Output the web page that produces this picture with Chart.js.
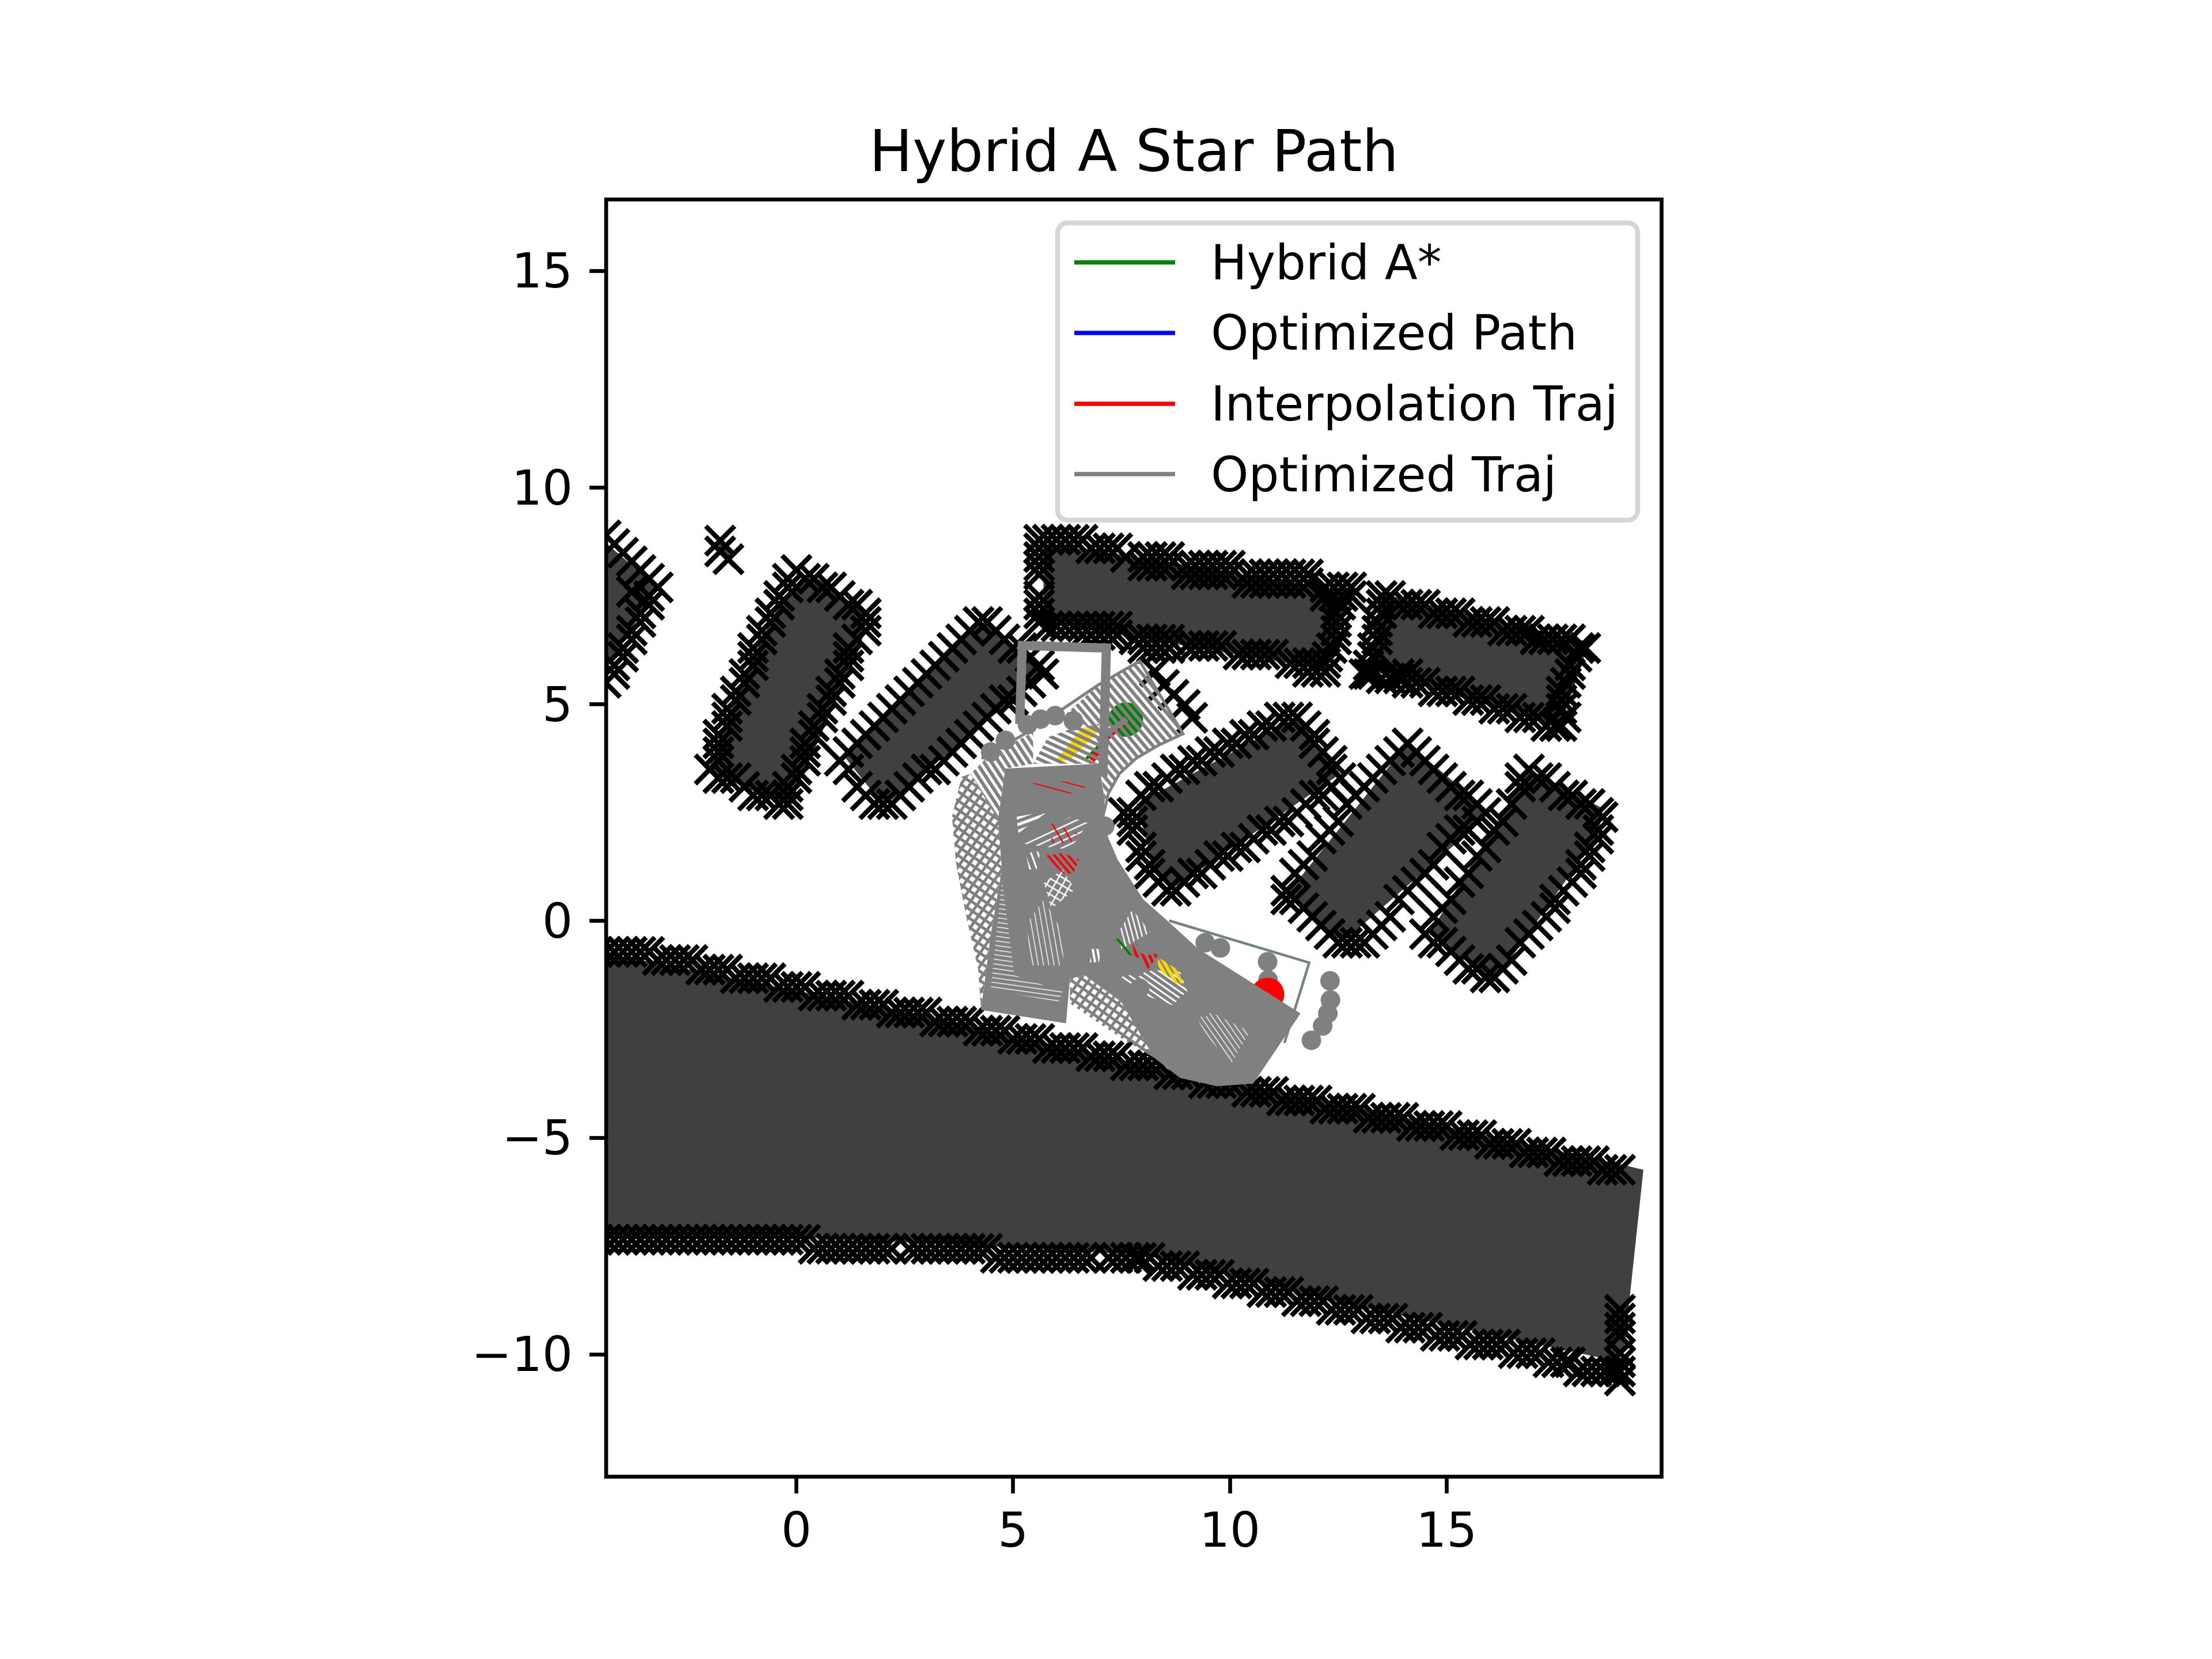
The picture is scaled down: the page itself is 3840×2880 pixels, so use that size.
<!DOCTYPE html>
<html>
<head>
<meta charset="utf-8">
<title>Hybrid A Star Path</title>
<style>html,body{margin:0;padding:0;background:#fff}canvas{display:block}</style>
<script src="https://cdn.jsdelivr.net/npm/chart.js@4/dist/chart.umd.js"></script>
</head>
<body>
<canvas id="plot" width="3840" height="2880"></canvas>
<script>
// ─── AXES ───
const xTicks = [0, 5, 10, 15];
const yTicks = [-10, -5, 0, 5, 10, 15];
const xLimits = [-4.39, 19.96];
const yLimits = [-12.82, 16.65];
const titleText = 'Hybrid A Star Path';
const legendLabels = ['Hybrid A*', 'Optimized Path', 'Interpolation Traj', 'Optimized Traj'];
const legendColors = ['#008000', '#0000ff', '#ff0000', '#808080'];

// ─── ROAD EDGES: each row is [y, x, x, x...] ───
const roadTopRows = [
    [-0.71, -4.6, -4.4, -4.2, -4.0, -3.8, -3.6, -3.4],
    [-0.90, -3.2, -3.0, -2.8, -2.6, -2.4],
    [-1.12, -2.2, -2.0, -1.8, -1.6],
    [-1.32, -1.4, -1.2, -1.0, -0.8, -0.6],
    [-1.52, -0.4, -0.2, 0, 0.2],
    [-1.72, 0.4, 0.6, 0.8, 1.0, 1.2],
    [-1.93, 1.4, 1.6, 1.8, 2.0],
    [-2.11, 2.2, 2.4, 2.6, 2.8, 3.0],
    [-2.32, 3.2, 3.4, 3.6, 3.8, 4.0],
    [-2.53, 4.2, 4.4, 4.6, 4.8],
    [-2.72, 5.0, 5.2, 5.4, 5.6],
    [-2.93, 5.8, 6.0, 6.2, 6.4, 6.6],
    [-3.12, 6.8, 7.0, 7.2, 7.4],
    [-3.33, 7.6, 7.8, 8.0, 8.2, 8.4],
    [-3.54, 8.6, 8.8, 9.0, 9.2],
    [-3.74, 9.4, 9.6, 9.8, 10.0, 10.2],
    [-3.94, 10.4, 10.6, 10.8, 11.0],
    [-4.14, 11.2, 11.4, 11.6, 11.8, 12.0],
    [-4.33, 12.2, 12.4, 12.6, 12.8, 13.0],
    [-4.54, 13.2, 13.4, 13.6, 13.8, 14.0],
    [-4.73, 14.2, 14.4, 14.6, 14.8, 15.0],
    [-4.94, 15.2, 15.4, 15.6, 15.8],
    [-5.14, 16.0, 16.2, 16.4, 16.6],
    [-5.34, 16.8, 17.0, 17.2, 17.4],
    [-5.54, 17.6, 17.8, 18.0, 18.2, 18.4],
    [-5.74, 18.6, 18.8, 19.0]
];
const roadBottomRows = [
    [-7.35, -4.6, -4.4, -4.2, -4.0, -3.8, -3.6, -3.4, -3.2, -3.0, -2.8, -2.6, -2.4, -2.2, -2.0, -1.8, -1.6, -1.4, -1.2, -1.0, -0.8, -0.6, -0.4, -0.2, 0, 0.2],
    [-7.56, 0.4, 0.6, 0.8, 1.0, 1.2, 1.4, 1.6, 1.8, 2.0, 2.2, 2.6, 2.8, 3.0, 3.2, 3.4, 3.6, 3.8, 4.0, 4.2, 4.4],
    [-7.77, 4.6, 4.8, 5.0, 5.2, 5.4, 5.6, 5.8, 6.0, 6.2, 6.4, 6.6, 6.8, 7.2, 7.4, 7.6, 7.8, 7.95, 8.15],
    [-7.96, 8.35, 8.55, 8.75, 8.95],
    [-8.16, 9.15, 9.35, 9.55, 9.75],
    [-8.36, 9.95, 10.15, 10.35, 10.55],
    [-8.56, 10.75, 10.95, 11.15, 11.35],
    [-8.77, 11.55, 11.75, 11.95, 12.15],
    [-8.97, 12.35, 12.55, 12.75, 12.95, 19.0],
    [-9.17, 13.15, 13.35, 13.55, 13.75, 19.0],
    [-9.38, 13.95, 14.15, 14.35, 14.55, 19.0],
    [-9.57, 14.75, 14.95, 15.15, 15.35, 19.0],
    [-9.77, 15.55, 15.75, 15.95, 16.15, 16.35],
    [-9.97, 16.55, 16.75, 16.95, 17.15, 19.0],
    [-10.18, 17.35, 17.55, 17.75, 17.85, 19.0],
    [-10.39, 18.05, 18.25, 18.45, 18.65, 18.85, 19.0],
    [-10.60, 19.0]
];

// ─── OBSTACLE MARKERS ───
const obstacleA = [[-4.4,8.9],[-4.2,8.7],[-4.0,8.5],[-3.8,8.3],[-3.6,8.1],[-3.4,7.9],[-3.2,7.7],[-3.4,7.5],[-3.4,7.3],[-3.6,7.1],[-3.6,6.9],[-3.8,6.7],[-3.8,6.5],[-4.0,6.3],[-4.0,6.1],[-4.2,5.9],[-4.2,5.7],[-4.4,5.5],[-3.8,7.6]];
const obstacleB = [[-1.76,8.78],[-1.76,8.53],[-1.57,8.35]];
const obstacleC = [[0.4,7.9],[0.6,7.7],[0.8,7.7],[1.0,7.5],[1.2,7.3],[1.4,7.3],[1.6,7.1],[1.6,6.9],[1.6,6.7],[1.4,6.5],[1.2,6.3],[1.2,6.1],[1.2,5.9],[1.0,5.7],[1.0,5.5],[0.8,5.3],[0.8,5.1],[0.6,4.9],[0.6,4.7],[0.4,4.5],[0.4,4.3],[0.2,4.1],[0.2,3.9],[0.2,3.7],[0,3.5],[0,3.3],[-0.2,3.1],[-0.2,2.9],[-0.2,2.7],[-0.4,2.7],[-0.6,2.9],[-0.8,2.9],[-1.0,2.9],[-1.2,3.1],[-1.4,3.3],[-1.6,3.3],[-1.8,3.3],[-2.0,3.5],[-1.8,3.7],[-1.8,3.9],[-1.8,4.1],[-1.8,4.3],[-1.6,4.5],[-1.6,4.7],[-1.6,4.9],[-1.4,5.1],[-1.4,5.3],[-1.2,5.5],[-1.2,5.7],[-1.0,5.9],[-1.0,6.1],[-1.0,6.3],[-0.8,6.5],[-0.8,6.7],[-0.6,6.9],[-0.6,7.1],[-0.4,7.3],[-0.4,7.5],[-0.2,7.7],[-0.2,7.9],[0,8.1],[0.2,7.9]];
const obstacleD = [[1.0,3.7],[1.2,3.9],[1.4,4.1],[1.6,4.3],[1.8,4.5],[2.0,4.7],[2.2,4.9],[2.4,5.1],[2.6,5.3],[2.8,5.5],[3.0,5.7],[3.2,5.9],[3.4,6.1],[3.6,6.3],[3.8,6.5],[4.0,6.7],[4.2,6.9],[4.4,6.9],[4.6,6.7],[4.8,6.5],[5.0,6.3],[5.2,6.3],[5.4,6.1],[5.6,5.9],[5.7,5.7],[5.4,5.5],[5.2,5.3],[5.0,5.1],[4.8,5.1],[4.6,4.9],[4.4,4.7],[4.2,4.5],[4.0,4.3],[3.8,4.1],[3.6,3.9],[3.4,3.7],[3.2,3.5],[3.0,3.5],[2.8,3.3],[2.6,3.1],[2.4,2.9],[2.2,2.7],[2.0,2.7],[1.8,2.7],[1.6,2.9],[1.4,3.1],[1.2,3.5]];
const obstacleERows = [
    [8.8, 5.6, 5.8, 6.0, 6.2, 6.4, 6.6],
    [8.6, 5.6, 6.8, 7.0, 7.2, 7.4],
    [8.4, 5.6, 7.6, 8.0, 8.2, 8.4, 8.6],
    [8.2, 5.6, 8.0, 8.2, 8.4, 8.6, 9.0, 9.2, 9.4, 9.6, 9.8, 10.0],
    [8.0, 5.6, 9.0, 9.2, 9.4, 9.6, 9.8, 10.0, 10.4, 10.6, 10.8, 11.0, 11.2, 11.4, 11.6, 11.8],
    [7.8, 10.4, 10.6, 10.8, 11.0, 11.2, 11.4, 11.6, 11.8],
    [7.7, 12.2, 12.4, 12.6, 12.8],
    [7.5, 5.6, 12.2, 12.4, 12.6, 12.8],
    [7.3, 5.6, 12.55],
    [7.1, 5.6, 12.45],
    [6.9, 5.6, 12.45],
    [6.8, 5.8, 6.0, 6.2, 6.4, 6.6, 6.8, 7.0, 7.2, 7.4],
    [6.7, 12.45],
    [6.6, 6.6, 6.8, 7.0, 7.2, 7.4],
    [6.5, 7.8, 8.0, 8.2, 8.4, 8.6, 12.45],
    [6.35, 9.0, 9.2, 9.4, 9.6, 9.8],
    [6.3, 8.0, 8.2, 8.4, 8.6, 12.35],
    [6.15, 10.2, 10.4, 10.6, 10.8, 11.0],
    [6.1, 12.25],
    [5.95, 11.4, 11.6, 11.8, 12.0, 12.2],
    [5.75, 11.8, 12.0, 12.2]
];
const obstacleFRows = [
    [7.5, 13.5, 13.7],
    [7.3, 13.5, 13.9, 14.1, 14.3, 14.5],
    [7.1, 13.5, 14.7, 14.9, 15.1, 15.3],
    [6.9, 13.4, 15.5, 15.7, 15.9, 16.1],
    [6.7, 13.4, 16.3, 16.5, 16.7, 16.9],
    [6.5, 13.4, 17.05, 17.25, 17.45, 17.65, 17.85],
    [6.3, 13.3, 18.05, 18.2],
    [6.1, 13.3, 18.0],
    [5.9, 13.2, 17.85],
    [5.7, 13.1, 13.2, 13.3, 13.9, 14.1, 17.85],
    [5.6, 13.5, 13.7, 13.9],
    [5.5, 14.1, 14.3, 14.5, 17.75],
    [5.3, 14.7, 14.9, 15.1, 15.3, 17.65],
    [5.1, 15.5, 15.7, 15.9, 17.65],
    [4.9, 16.1, 16.3, 16.5, 17.65],
    [4.7, 16.7, 16.9, 17.1, 17.75],
    [4.5, 17.3, 17.5, 17.65]
];
const obstacleG = [[7.75,2.5],[7.95,2.9],[8.15,3.1],[8.35,3.1],[8.55,3.3],[8.75,3.5],[8.95,3.5],[9.15,3.7],[9.35,3.7],[9.55,3.9],[9.75,3.9],[9.95,4.1],[10.15,4.1],[10.35,4.3],[10.55,4.3],[10.75,4.5],[10.95,4.5],[11.15,4.7],[11.35,4.7],[11.55,4.7],[11.75,4.5],[11.95,4.3],[11.95,4.1],[12.15,3.9],[12.35,3.7],[12.35,3.5],[12.55,3.3],[12.35,3.1],[12.15,2.9],[11.95,2.9],[11.75,2.7],[11.55,2.5],[11.35,2.3],[11.15,2.3],[10.95,2.1],[10.75,2.1],[10.55,1.9],[10.35,1.7],[10.15,1.7],[9.95,1.5],[9.75,1.5],[9.55,1.3],[9.35,1.1],[9.15,1.1],[8.95,0.9],[8.75,0.7],[8.55,0.7],[8.35,0.9],[8.15,1.1],[8.15,1.3],[7.95,1.5],[7.95,1.7],[7.75,2.1],[7.75,2.3],[7.55,2.5]];
const obstacleH = [[11.3,0.7],[11.5,1.1],[11.7,1.3],[11.9,1.5],[12.1,1.9],[12.3,2.1],[12.5,2.3],[12.7,2.7],[12.9,2.9],[13.1,3.1],[13.3,3.3],[13.5,3.5],[13.7,3.7],[13.9,3.9],[14.1,4.1],[14.3,3.9],[14.5,3.7],[14.7,3.5],[14.9,3.3],[15.1,3.1],[15.3,2.9],[15.5,2.9],[15.7,2.7],[15.9,2.5],[15.7,2.3],[15.5,2.1],[15.3,2.1],[15.1,1.9],[14.9,1.7],[14.7,1.3],[14.5,1.1],[14.3,0.9],[14.1,0.7],[13.9,0.5],[13.7,0.1],[13.5,-0.1],[13.3,-0.3],[13.1,-0.5],[12.9,-0.5],[12.7,-0.5],[12.5,-0.5],[12.3,-0.3],[12.1,-0.1],[11.9,0.1],[11.7,0.3],[11.5,0.5],[11.3,0.5]];
const obstacleI = [[14.5,-0.3],[14.7,0.1],[14.9,0.3],[15.1,0.5],[15.3,0.9],[15.5,1.1],[15.7,1.5],[15.9,1.7],[16.1,2.1],[16.3,2.3],[16.5,2.7],[16.7,3.1],[16.7,3.3],[16.9,3.5],[17.1,3.3],[17.3,3.3],[17.5,3.1],[17.7,2.9],[17.9,2.9],[18.1,2.7],[18.3,2.7],[18.5,2.5],[18.6,2.4],[18.5,2.1],[18.5,1.9],[18.3,1.7],[18.3,1.5],[18.1,1.3],[18.1,1.1],[17.9,0.9],[17.7,0.7],[17.5,0.5],[17.5,0.3],[17.3,0.1],[17.1,-0.1],[16.9,-0.3],[16.7,-0.5],[16.5,-0.9],[16.3,-1.1],[16.1,-1.3],[15.9,-1.3],[15.7,-1.1],[15.5,-1.1],[15.3,-0.9],[15.1,-0.7],[14.9,-0.5],[14.7,-0.5]];
const obstacleJ = [[8.27,5.76],[8.48,5.45],[8.7,5.22],[8.96,4.99],[9.13,4.69]];

// ─── OBSTACLE FILLS ───
const roadFill = [[-4.6,-0.7],[3,-2.2],[7.5,-3.2],[12.5,-4.2],[19.17,-5.65],[19.54,-5.74],[19.1,-9.85],[18.9,-10.15],[13,-8.9],[8,-7.7],[4.5,-7.5],[0.2,-7.3],[-4.6,-7.3]];
const fillA = [[-4.6,8.9],[-3.2,7.7],[-4.4,5.8],[-4.6,5.5]];
const fillB = [[-1.8,8.7],[-1.6,8.7],[-1.5,8.3],[-1.7,8.4]];
const fillC = [[0.1,7.9],[0.5,7.9],[1.6,7.1],[1.5,6.4],[-0.1,2.8],[-0.3,2.7],[-1.9,3.4],[-2.0,3.6],[-1.2,5.7],[-0.4,7.3]];
const fillD = [[1.1,3.8],[4.2,6.9],[4.5,6.8],[5.7,5.7],[2.2,2.8],[1.9,2.8]];
const fillE = [[5.7,8.7],[7.2,8.5],[12.75,7.6],[12.25,5.8],[5.7,6.9]];
const fillF = [[13.5,7.55],[18.25,6.45],[18.15,6.0],[17.65,4.6],[17.4,4.55],[13.2,5.8]];
const fillG = [[7.85,2.7],[11.55,4.7],[12.55,3.4],[8.75,0.8],[8.25,1.2]];
const fillH = [[14.1,4.1],[15.9,2.6],[15.8,2.3],[12.7,-0.4],[12.4,-0.4],[11.3,0.6]];
const fillI = [[16.9,3.5],[18.6,2.6],[18.5,2.0],[16.1,-1.4],[14.6,-0.3]];

// ─── PATH MARKS ───
const startPoint = [[7.60, 4.65]];
const goalPoint = [[10.87, -1.69]];
const goldStart = [[5.97,3.69],[6.60,4.47],[6.98,4.40],[6.31,3.71]];
const goldGoal = [[8.34,-0.83],[8.76,-1.10],[8.93,-1.44],[8.76,-1.44],[8.34,-1.10]];
const interpolationTraj = [[7.62,4.66],[7.15,4.24],[6.81,3.71]];
const hybridPath = [[6.98,4.05],[6.69,3.75]];
const optimizedPath = [[7.42,4.42],[7.58,4.62]];
const stubTraj = [[7.62,4.66],[7.15,4.32]];
const goalBox = [[8.60,0.01],[11.83,-0.96],[11.26,-2.81]];
const startBox = [[5.15,4.55],[5.21,6.36],[7.15,6.30],[7.07,3.33]];
const fanRim = [[4.27,3.75],[5.46,4.43],[6.98,5.46],[7.92,6.00],[8.92,4.32],[8.34,4.05],[7.83,3.75],[7.45,3.40],[7.20,2.95],[7.07,2.41]];
const waypointsLow = [[10.88,-1.36]];
const waypoints = [[12.31,-1.38],[12.32,-1.82],[12.26,-2.13],[12.14,-2.42],[11.88,-2.75],[10.87,-0.94],[9.78,-0.62],[9.43,-0.50],[9.02,-1.90],[9.36,-1.98],[7.83,-1.06],[8.09,-0.56],[7.92,-1.55],[6.39,4.62],[5.97,4.74],[5.63,4.66],[5.33,4.53],[4.82,4.17],[4.48,3.90],[7.11,2.19]];

// ─── TRAJECTORY FOOTPRINT ───
const bodySolid = [[4.82,3.52],[6.98,3.63],[7.11,2.79],[7.07,2.41],[7.15,2.03],[7.41,1.42],[8.00,0.50],[8.60,-0.03],[9.27,-0.64],[11.63,-2.13],[10.54,-3.75],[9.70,-3.81],[8.85,-3.62],[8.26,-3.16],[7.49,-1.86],[6.65,-1.25],[6.31,-1.33],[6.22,-2.36],[4.26,-2.05],[4.48,-0.33],[4.74,1.19],[4.65,2.34]];
const fanRight = [[6.22,4.78],[6.98,5.46],[7.92,6.00],[8.92,4.32],[8.34,4.05],[7.83,3.75],[7.45,3.40],[7.20,2.95],[7.11,2.79],[7.0,3.6],[6.9,4.4],[6.6,4.55]];
const fanInner = [[5.46,3.63],[5.80,4.24],[6.31,4.43],[6.98,4.55],[7.03,3.63]];
const fanLeft = [[4.02,3.40],[4.44,3.82],[5.46,4.36],[5.46,3.63],[4.82,3.52],[4.65,2.34]];
const latticeLeft = [[3.81,3.33],[3.59,2.41],[3.68,1.34],[3.93,0.05],[4.19,-1.10],[4.26,-2.05],[4.48,-0.33],[4.74,1.19],[4.65,2.34],[4.02,3.40]];
const latticeLow = [[6.31,-1.33],[6.65,-1.25],[7.49,-1.86],[8.26,-3.16],[7.49,-2.70],[6.81,-2.24],[6.31,-1.90]];
const gapA = [[5.08,2.41],[5.80,2.53],[5.12,2.03]];
const gapB = [[5.20,1.80],[6.31,2.41],[6.73,2.26],[6.31,1.65],[5.37,1.76]];
const gapC = [[5.29,1.57],[5.63,1.61],[5.54,1.19],[5.37,1.19]];
const gapD = [[5.71,0.89],[6.14,1.19],[6.43,0.73],[5.88,0.28]];
const gapE = [[4.48,-1.59],[4.74,0.96],[5.03,-1.25],[6.14,-1.63],[6.05,-1.86]];
const gapF = [[5.33,-0.03],[5.71,0.50],[6.18,-0.33],[6.14,-1.02],[5.37,-1.02]];
const gapG = [[7.45,-0.22],[7.75,0.27],[8.17,-0.26],[7.49,-0.64]];
const gapH = [[7.49,-1.29],[8.26,-1.13],[8.85,-1.17],[9.02,-1.63],[8.68,-1.94],[7.92,-1.67]];
const gapJ = [[9.02,-1.77],[9.70,-2.17],[10.46,-2.55],[10.04,-3.27],[9.44,-2.63]];
const gapI = [[6.81,-0.64],[7.03,-0.64],[6.98,-0.95],[6.77,-0.95]];
const redPatchA = [[5.71,1.50],[6.14,1.57],[6.52,1.42],[6.39,1.11],[6.18,1.08]];
const redPatchB = [[5.88,2.26],[6.48,2.03],[6.31,1.80],[5.88,1.80]];
const redPatchC = [[5.29,3.17],[6.65,3.25],[6.65,2.95],[5.54,2.95]];
const redPatchD = [[7.75,-0.49],[8.34,-0.79],[8.09,-1.14],[7.79,-0.79]];
const greenPatch = [[7.32,-0.41],[7.49,-0.41],[7.83,-0.79],[7.66,-0.79]];

// ─── HELPERS ───
const toXY = list => list.map(p => ({ x: p[0], y: p[1] }));
const fromRows = rows => rows.flatMap(r => r.slice(1).map(x => ({ x: x, y: r[0] })));

function stripes(color, width, period, angle) {
    const tile = document.createElement('canvas');
    tile.width = 8;
    tile.height = period;
    const g = tile.getContext('2d');
    g.fillStyle = color;
    g.fillRect(0, 0, 8, width);
    const pat = g.createPattern(tile, 'repeat');
    pat.setTransform(new DOMMatrix().rotate(angle));
    return pat;
}

function lattice(color, width, period, angle) {
    const tile = document.createElement('canvas');
    tile.width = period;
    tile.height = period;
    const g = tile.getContext('2d');
    g.fillStyle = color;
    g.fillRect(0, 0, period, width);
    g.fillRect(0, 0, width, period);
    const pat = g.createPattern(tile, 'repeat');
    pat.setTransform(new DOMMatrix().rotate(angle));
    return pat;
}

function area(points, paint) {
    return { data: toXY(points), showLine: true, fill: 'shape', backgroundColor: paint, borderColor: 'transparent', borderWidth: 0, pointRadius: 0, clip: 0 };
}
function path(points, color, width, label) {
    return { label: label, data: toXY(points), showLine: true, fill: false, borderColor: color, borderWidth: width, pointRadius: 0, clip: 0 };
}
function dots(points, color, radius) {
    return { data: toXY(points), showLine: false, pointStyle: 'circle', pointRadius: radius, backgroundColor: color, borderColor: color, borderWidth: 0, clip: 0 };
}

const GRAY = '#808080';
const DARK = '#404040';
const obstacleMarks = [].concat(
    fromRows(roadTopRows), fromRows(roadBottomRows), fromRows(obstacleERows), fromRows(obstacleFRows),
    toXY(obstacleA), toXY(obstacleB), toXY(obstacleC), toXY(obstacleD), toXY(obstacleG), toXY(obstacleH), toXY(obstacleI), toXY(obstacleJ)
);

// drawn in list order, first at the back
const datasets = [
    area(roadFill, DARK), area(fillA, DARK), area(fillB, DARK), area(fillC, DARK), area(fillD, DARK),
    area(fillE, DARK), area(fillF, DARK), area(fillG, DARK), area(fillH, DARK), area(fillI, DARK),
    { data: obstacleMarks, showLine: false, pointStyle: 'crossRot', pointRadius: 35.4, borderColor: '#000', backgroundColor: '#000', borderWidth: 8.33, clip: 0 },
    dots(startPoint, '#008000', 30),
    dots(waypointsLow, GRAY, 17),
    dots(goalPoint, '#ff0000', 29),
    area(goldStart, '#ffd700'),
    path(interpolationTraj, '#ff0000', 12, 'Interpolation Traj'),
    path(hybridPath, '#008000', 5, 'Hybrid A*'),
    path(optimizedPath, '#0000ff', 2, 'Optimized Path'),
    path(goalBox, '#75857a', 4.5),
    area(latticeLeft, lattice(GRAY, 5, 13, 35)),
    area(latticeLow, lattice(GRAY, 5, 13, 35)),
    area(fanRight, stripes(GRAY, 6, 11, 50)),
    area(fanInner, stripes(GRAY, 6, 11, 25)),
    area(fanLeft, stripes(GRAY, 6, 11, 57)),
    area(bodySolid, GRAY),
    area(gapA, stripes('#fff', 5, 11, -20)),
    area(gapB, stripes('#fff', 2.5, 11, -25)),
    area(gapC, stripes('#fff', 3, 11, 70)),
    area(gapD, lattice('#fff', 2.5, 12, 30)),
    area(gapE, stripes('#fff', 1.4, 8, 8)),
    area(gapF, stripes('#fff', 1.4, 9, 80)),
    area(gapG, stripes('#fff', 2.5, 8, 75)),
    area(gapH, stripes('#fff', 3, 9, 35)),
    area(gapJ, stripes('#fff', 1.4, 8, 55)),
    area(gapI, stripes('#fff', 4, 8, 80)),
    area(redPatchA, stripes('#ff0000', 4, 9, 50)),
    area(redPatchB, stripes('#ff0000', 2.5, 14, 60)),
    area(redPatchC, stripes('#ff0000', 2, 16, 15)),
    area(redPatchD, stripes('#ff0000', 5, 10, 65)),
    area(greenPatch, stripes('#008000', 4, 10, 50)),
    area(goldGoal, stripes('#ffd700', 6, 9, 60)),
    path(stubTraj, GRAY, 10),
    path(fanRim, GRAY, 5, 'Optimized Traj'),
    path(startBox, GRAY, 16),
    dots(waypoints, GRAY, 17)
];
datasets.forEach((d, i) => { d.order = -i; });

// ─── SPINES AND LEGEND ───
const framePlugin = {
    id: 'frame',
    afterDraw(chart) {
        const { ctx, chartArea: a } = chart;
        ctx.save();
        ctx.lineWidth = 6.67;
        ctx.strokeStyle = '#000';
        ctx.strokeRect(a.left, a.top, a.right - a.left, a.bottom - a.top);

        ctx.beginPath();
        ctx.roundRect(1836, 387, 1007, 516, 17);
        ctx.fillStyle = 'rgba(255,255,255,0.8)';
        ctx.fill();
        ctx.lineWidth = 8.33;
        ctx.strokeStyle = '#d6d6d6';
        ctx.stroke();

        const handleY = [455.6, 578, 701, 823];
        const textY = [485, 607, 730, 853];
        ctx.font = '83.33px "DejaVu Sans"';
        ctx.textBaseline = 'alphabetic';
        ctx.textAlign = 'left';
        legendLabels.forEach((label, i) => {
            ctx.beginPath();
            ctx.moveTo(1865, handleY[i]);
            ctx.lineTo(2040, handleY[i]);
            ctx.lineWidth = 7.5;
            ctx.strokeStyle = legendColors[i];
            ctx.stroke();
            ctx.fillStyle = '#000';
            ctx.fillText(label, 2102, textY[i]);
        });
        ctx.restore();
    }
};

const xTickFont = { family: '"DejaVu Sans"', size: 83.33, lineHeight: 1 };
// a small line height with an empty first line moves the label down onto its tick
const yTickFont = { family: '"DejaVu Sans"', size: 83.33, lineHeight: 0.176 };
const tickLabel = v => String(v).replace('-', '\u2212');

new Chart(document.getElementById('plot'), {
    type: 'scatter',
    data: { datasets: datasets },
    options: {
        responsive: false,
        animation: false,
        devicePixelRatio: 1,
        layout: { padding: { left: 0, top: 0, right: 955.5, bottom: 0 } },
        plugins: {
            legend: { display: false },
            tooltip: { enabled: false },
            title: {
                display: true,
                text: titleText,
                fullSize: false,
                color: '#000',
                font: { family: '"DejaVu Sans"', size: 100, weight: 'normal', lineHeight: 1.2 },
                padding: { top: 211.4, bottom: 14.9 }
            }
        },
        scales: {
            x: {
                type: 'linear',
                min: xLimits[0],
                max: xLimits[1],
                afterFit(s) { s.height = 316.5; },
                afterBuildTicks(s) { s.ticks = xTicks.map(v => ({ value: v })); },
                border: { display: false },
                grid: { drawOnChartArea: false, drawTicks: true, tickLength: 29, tickWidth: 6.67, tickColor: '#000' },
                ticks: { font: xTickFont, color: '#000', padding: 29, maxRotation: 0, autoSkip: false, callback: tickLabel }
            },
            y: {
                type: 'linear',
                min: yLimits[0],
                max: yLimits[1],
                afterFit(s) { s.width = 1052.3; },
                afterBuildTicks(s) { s.ticks = yTicks.map(v => ({ value: v })); },
                border: { display: false },
                grid: { drawOnChartArea: false, drawTicks: true, tickLength: 29, tickWidth: 6.67, tickColor: '#000' },
                ticks: { font: yTickFont, color: '#000', padding: 29, autoSkip: false, callback: v => ['', tickLabel(v)] }
            }
        }
    },
    plugins: [framePlugin]
});
</script>
</body>
</html>
